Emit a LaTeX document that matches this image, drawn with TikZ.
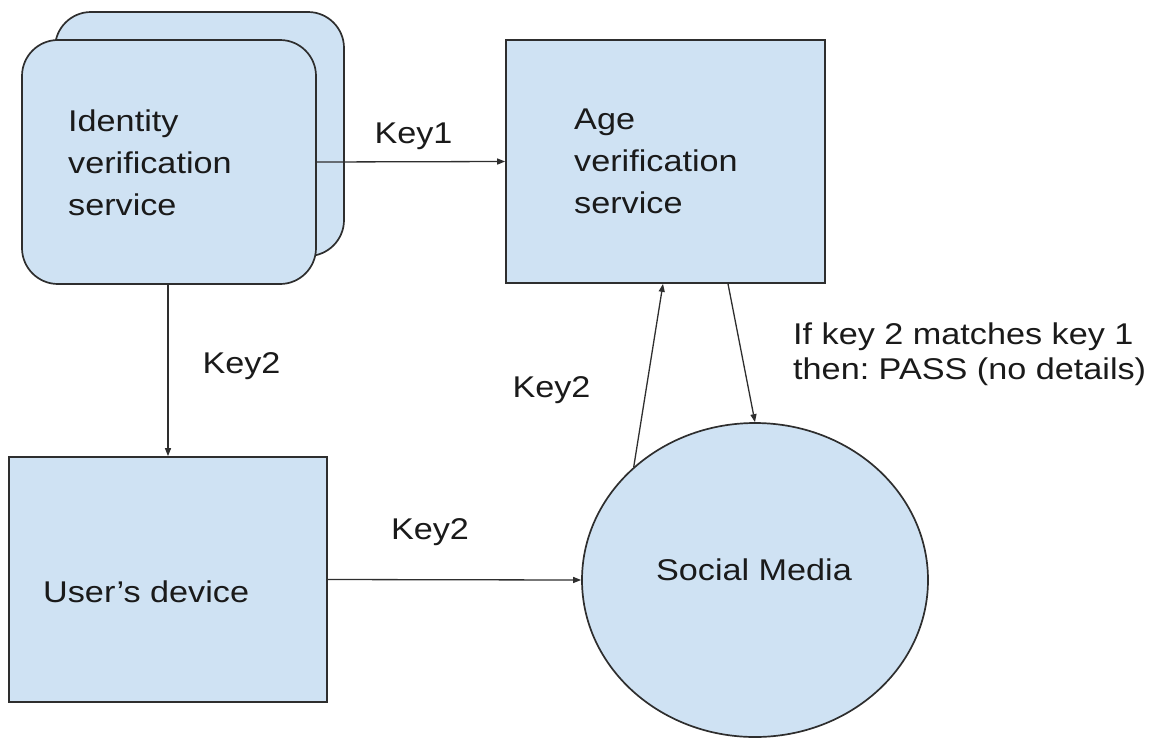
\documentclass[tikz,border=0pt]{standalone}
\usepackage{fontspec}
\setmainfont{Liberation Sans}[FakeStretch=1.14]
\usetikzlibrary{arrows.meta,shapes.geometric}
\definecolor{boxfill}{HTML}{CFE2F3}
\definecolor{edgecol}{HTML}{2E2E2E}
\definecolor{inkcol}{HTML}{1A1A1A}
\frenchspacing
\begin{document}
\begin{tikzpicture}[x=1pt,y=-1pt,
  box/.style={draw=edgecol, fill=boxfill, line width=1.7pt, inner sep=0pt},
  lbl/.style={font=\fontsize{30}{42}\selectfont, text=inkcol, inner sep=0pt, align=left},
  note/.style={font=\fontsize{30}{35}\selectfont, text=inkcol, inner sep=0pt, align=left},
  conn/.style={draw=edgecol, line width=1.3pt, -{Triangle[length=8pt,width=6pt]}}]
\useasboundingbox (0,0) rectangle (1158,737);

% identity service: two stacked rounded cards
\node[box, rounded corners=36pt, minimum width=289pt, minimum height=244pt] (idback) at (199.5,134) {};
\node[box, rounded corners=36pt, minimum width=294pt, minimum height=244pt] (idfront) at (169,162) {};
\node[lbl, anchor=north west] (idtext) at (68,110) {Identity\\verification\\service};

% age verification service
\node[box, minimum width=319pt, minimum height=243pt] (age) at (665.5,161.5) {};
\node[lbl, anchor=north west] (agetext) at (574,108.5) {Age\\verification\\service};

% user's device
\node[box, minimum width=318pt, minimum height=245pt] (user) at (168,579.5) {};
\node[lbl, anchor=base west] (usertext) at (43,602) {User’s device};

% social media
\node[box, ellipse, minimum width=346pt, minimum height=314pt] (social) at (755,580) {};
\node[lbl, anchor=base] (socialtext) at (754,580) {Social Media};

% connectors
\draw[conn] (idfront.east) -- (age.west);
\draw[conn] (idfront.south -| user.north) -- (user.north);
\draw[conn] (user.east) -- (social.west);
\draw[conn] (social.137) -- ([xshift=-2.5pt]age.south);
\draw[conn] ([xshift=62.5pt]age.south) -- (social.north);

% connector labels
\node[lbl, anchor=base] (k1) at (413.5,143) {Key1};
\node[lbl, anchor=base] (k2a) at (241.5,373) {Key2};
\node[lbl, anchor=base] (k2b) at (551.5,397) {Key2};
\node[lbl, anchor=base] (k2c) at (430,539) {Key2};
\node[note, anchor=north west] (cond) at (793,323) {If key 2 matches key 1\\then: PASS (no details)};
\end{tikzpicture}
\end{document}
